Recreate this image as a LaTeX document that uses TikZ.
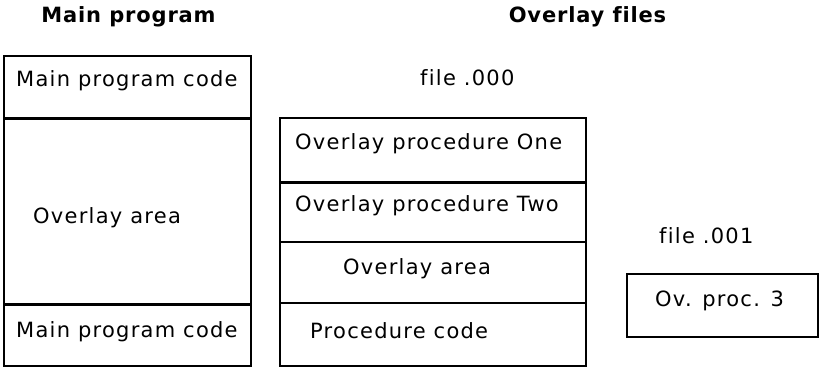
\documentclass[tikz,border=0pt]{standalone}
\usepackage{fontspec}
\newfontfamily\dvsans{DejaVu Sans}[LetterSpace=6,Ligatures=NoCommon]
\newfontfamily\dvsanshead{DejaVu Sans Bold}[LetterSpace=4,Ligatures=NoCommon]
\newcommand{\lblfont}{\dvsans\fontsize{21}{24}\selectfont}
\newcommand{\headfont}{\dvsanshead\fontsize{21}{24}\selectfont}
\tikzset{
  box/.style={line width=2pt},
  thickrule/.style={line width=3pt},
  thinrule/.style={line width=1.5pt},
  lbl/.style={anchor=base west,inner sep=0pt,font=\lblfont},
  head/.style={anchor=base,inner sep=0pt,font=\headfont}
}
\begin{document}
\begin{tikzpicture}[x=1pt,y=-1pt]
\useasboundingbox (0,0) rectangle (820,367);
% headings
\node[head] (mainhead) at (128.5,22) {Main program};
\node[head] (ovhead) at (587.5,22) {Overlay files};
% main program
\draw[box] (4,56) rectangle (251,366);
\draw[thickrule] (4,118) -- (251,118);
\draw[thickrule] (4,304) -- (251,304);
\node[lbl] (maintop) at (16,86) {Main program code};
\node[lbl] (mainarea) at (33,223) {Overlay area};
\node[lbl] (mainbot) at (16,337) {Main program code};
% file .000
\node[lbl] (filezero) at (420,85) {file .000};
\draw[box] (280,118) rectangle (586,366);
\draw[thickrule] (280,182) -- (586,182);
\draw[thinrule] (280,242) -- (586,242);
\draw[thinrule] (280,303) -- (586,303);
\node[lbl] (procone) at (295,149) {Overlay procedure One};
\node[lbl] (proctwo) at (295,211) {Overlay procedure Two};
\node[lbl] (filearea) at (343,274) {Overlay area};
\node[lbl] (proccode) at (310,338) {Procedure code};
% file .001
\node[lbl] (fileone) at (659,243) {file .001};
\draw[box] (627,274) rectangle (818,337);
\node[lbl] (procthree) at (655,306) {Ov. proc. 3};
\end{tikzpicture}
\end{document}
